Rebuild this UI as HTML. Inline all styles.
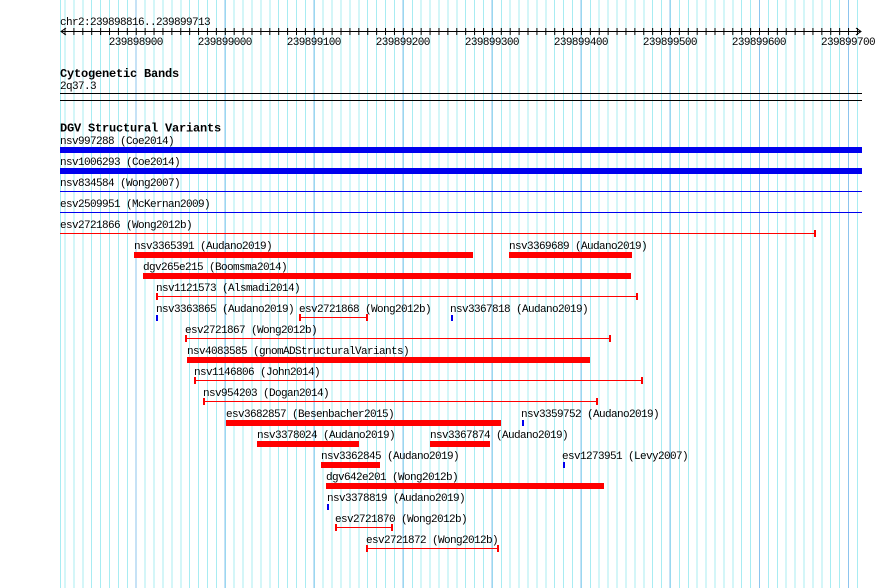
<!DOCTYPE html>
<html><head><meta charset="utf-8"><style>
html,body{margin:0;padding:0;background:#fff;}
#c{position:relative;width:890px;height:588px;overflow:hidden;background:#fff;}
.g{position:absolute;top:0;left:60px;width:801px;height:588px;
background-image:
repeating-linear-gradient(to right,#8cc4ee 0,#8cc4ee 1px,transparent 1px,transparent 89.04px),
repeating-linear-gradient(to right,#a8ecf2 0,#a8ecf2 1px,transparent 1px,transparent 8.904px);
background-position:75.5px 0,4.5px 0;}
.g0{position:absolute;top:0;left:60px;width:1px;height:588px;background:#a8ecf2;}
svg{position:absolute;left:0;top:0;}
text{font-family:"Liberation Mono",monospace;font-size:11px;letter-spacing:-0.6px;fill:#000;}
.b{font-weight:bold;font-size:12px;letter-spacing:-0.2px;}
</style></head><body><div id="c">
<div class="g"></div><div class="g0"></div>
<svg width="890" height="588" viewBox="0 0 890 588">
<defs>
<pattern id="tk" x="64.5" y="0" width="8.904" height="588" patternUnits="userSpaceOnUse"><rect x="0" y="28" width="1" height="7" fill="#000"/></pattern>
</defs>
<text x="60" y="25">chr2:239898816..239899713</text>
<rect x="61" y="31" width="800" height="1" fill="#000"/>
<rect x="60" y="28" width="802" height="7" fill="url(#tk)"/>
<path d="M66,28 L61,31.5 L66,35" stroke="#000" fill="none"/>
<path d="M856,28 L861,31.5 L856,35" stroke="#000" fill="none"/>
<g text-anchor="middle">
<text x="135.7" y="45">239898900</text><text x="224.8" y="45">239899000</text><text x="313.8" y="45">239899100</text>
<text x="402.8" y="45">239899200</text><text x="491.9" y="45">239899300</text><text x="580.9" y="45">239899400</text>
<text x="669.9" y="45">239899500</text><text x="758.9" y="45">239899600</text><text x="848" y="45">239899700</text>
</g>
<text class="b" x="60" y="77">Cytogenetic Bands</text>
<text x="60" y="89">2q37.3</text>
<rect x="60" y="93" width="802" height="1" fill="#000"/>
<rect x="60" y="100" width="802" height="1" fill="#000"/>
<text class="b" x="60" y="131.5">DGV Structural Variants</text>

<g>
<text x="60" y="144">nsv997288 (Coe2014)</text><rect x="60" y="147" width="802" height="6" fill="#0000ee"/>
<text x="60" y="165">nsv1006293 (Coe2014)</text><rect x="60" y="168" width="802" height="6" fill="#0000ee"/>
<text x="60" y="186">nsv834584 (Wong2007)</text><rect x="60" y="191" width="802" height="1" fill="#0000ee"/>
<text x="60" y="207">esv2509951 (McKernan2009)</text><rect x="60" y="212" width="802" height="1" fill="#0000ee"/>
<text x="60" y="228">esv2721866 (Wong2012b)</text><rect x="60" y="233" width="755" height="1" fill="#f00"/><rect x="814" y="230" width="2" height="7" fill="#f00"/>
</g>
<g fill="#f00">
<text x="134" y="249">nsv3365391 (Audano2019)</text><rect x="134" y="252" width="339" height="6"/>
<text x="509" y="249">nsv3369689 (Audano2019)</text><rect x="509" y="252" width="123" height="6"/>
<text x="143" y="270">dgv265e215 (Boomsma2014)</text><rect x="143" y="273" width="488" height="6"/>
<text x="156" y="291">nsv1121573 (Alsmadi2014)</text><rect x="156" y="296" width="482" height="1"/><rect x="156" y="293" width="2" height="7"/><rect x="636" y="293" width="2" height="7"/>
<text x="156" y="312">nsv3363865 (Audano2019)</text><rect x="156" y="315" width="2" height="6" fill="#0000ee"/>
<text x="299" y="312">esv2721868 (Wong2012b)</text><rect x="299" y="317" width="68" height="1"/><rect x="299" y="314" width="2" height="7"/><rect x="366" y="314" width="2" height="7"/>
<text x="450" y="312">nsv3367818 (Audano2019)</text><rect x="451" y="315" width="2" height="6" fill="#0000ee"/>
<text x="185" y="333">esv2721867 (Wong2012b)</text><rect x="185" y="338" width="425" height="1"/><rect x="185" y="335" width="2" height="7"/><rect x="609" y="335" width="2" height="7"/>
<text x="187" y="354">nsv4083585 (gnomADStructuralVariants)</text><rect x="187" y="357" width="403" height="6"/>
<text x="194" y="375">nsv1146806 (John2014)</text><rect x="194" y="380" width="448" height="1"/><rect x="194" y="377" width="2" height="7"/><rect x="641" y="377" width="2" height="7"/>
<text x="203" y="396">nsv954203 (Dogan2014)</text><rect x="203" y="401" width="394" height="1"/><rect x="203" y="398" width="2" height="7"/><rect x="596" y="398" width="2" height="7"/>
<text x="226" y="417">esv3682857 (Besenbacher2015)</text><rect x="226" y="420" width="275" height="6"/>
<text x="521" y="417">nsv3359752 (Audano2019)</text><rect x="522" y="420" width="2" height="6" fill="#0000ee"/>
<text x="257" y="438">nsv3378024 (Audano2019)</text><rect x="257" y="441" width="102" height="6"/>
<text x="430" y="438">nsv3367874 (Audano2019)</text><rect x="430" y="441" width="60" height="6"/>
<text x="321" y="459">nsv3362845 (Audano2019)</text><rect x="321" y="462" width="59" height="6"/>
<text x="562" y="459">esv1273951 (Levy2007)</text><rect x="563" y="462" width="2" height="6" fill="#0000ee"/>
<text x="326" y="480">dgv642e201 (Wong2012b)</text><rect x="326" y="483" width="278" height="6"/>
<text x="327" y="501">nsv3378819 (Audano2019)</text><rect x="327" y="504" width="2" height="6" fill="#0000ee"/>
<text x="335" y="522">esv2721870 (Wong2012b)</text><rect x="335" y="527" width="57" height="1"/><rect x="335" y="524" width="2" height="7"/><rect x="391" y="524" width="2" height="7"/>
<text x="366" y="543">esv2721872 (Wong2012b)</text><rect x="366" y="548" width="132" height="1"/><rect x="366" y="545" width="2" height="7"/><rect x="497" y="545" width="2" height="7"/>
</g>
</svg>
</div></body></html>
